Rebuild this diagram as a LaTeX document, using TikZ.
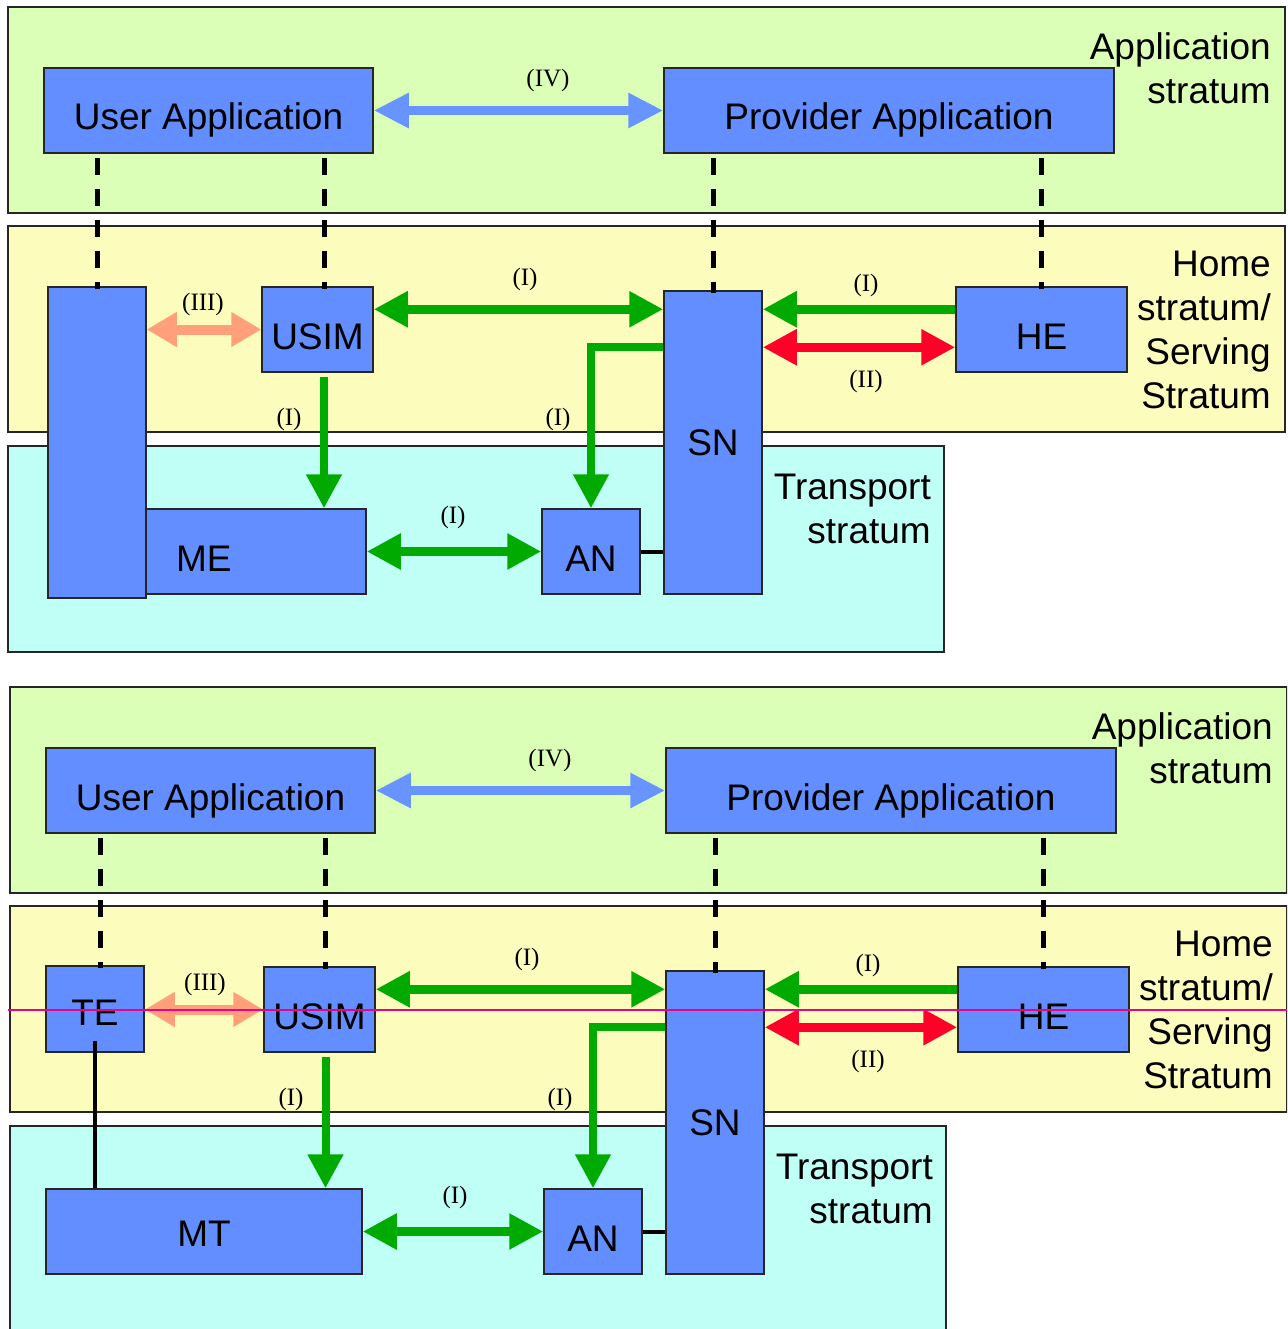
\documentclass[tikz,border=0pt]{standalone}
\usepackage{fontspec}
\setmainfont{Liberation Serif}
\setsansfont{Liberation Sans}
\usepackage{tikz}
\usetikzlibrary{arrows.meta,positioning}
\definecolor{boxblue}{RGB}{98,142,255}
\definecolor{appgreen}{RGB}{220,255,184}
\definecolor{homeyel}{RGB}{252,252,188}
\definecolor{transcyan}{RGB}{192,255,246}
\definecolor{lnkgreen}{RGB}{0,170,0}
\definecolor{lnkred}{RGB}{255,0,40}
\definecolor{lnksalmon}{RGB}{255,160,122}
\definecolor{lnkblue}{RGB}{104,148,255}

\begin{document}
\begin{tikzpicture}[x=1pt, y=-1pt,
box/.style = {draw=black!85, line width=1.5pt, fill=boxblue, inner sep=0pt,
text height=39pt, text depth=0pt, font=\sffamily\fontsize{37}{44}\selectfont},
lay/.style = {draw=black!85, line width=1.5pt},
slab/.style = {anchor=north east, align=right, inner sep=0pt,
font=\sffamily\fontsize{37}{44}\selectfont},
lbl/.style = {inner sep=0pt, font=\fontsize{25}{28}\selectfont},
dashln/.style = {line width=5pt, dash pattern=on 17pt off 14pt,
shorten <=4pt, shorten >=-3pt},
grn/.style = {draw=lnkgreen, line width=9pt},
vgrn/.style = {draw=lnkgreen, line width=8pt},
rd/.style = {draw=lnkred, line width=9pt},
salm/.style = {draw=lnksalmon, line width=10pt, >={Triangle[length=30pt,width=33pt]}},
blu/.style = {draw=lnkblue, line width=9pt, >={Triangle[length=35pt,width=33pt]}},
>={Triangle[length=34pt,width=34pt]} ]
\clip (0,0) rectangle (1287,1329);

% parts that both panels share
\foreach \pn/\dx/\dy in {top/0/0, bot/2/680} {
\begin{scope}[shift={(\dx,\dy)}, name prefix/.expanded=\pn-]
  \draw[lay, fill=appgreen] (8,7) rectangle (1285,213);
  \draw[lay, fill=homeyel] (8,226) rectangle (1285,432);
  \draw[lay, fill=transcyan] (8,446) rectangle (944,652);
  \node[slab] (appl) at (1271,32) {Application\\stratum};
  \node[slab] (homel) at (1271,251) {Home\\stratum/\\Serving\\Stratum};
  \node[slab] (trl) at (931,474) {Transport\\stratum};

  \node[box, minimum width=329pt, minimum height=85pt] (UA) at (208.5,110.5) {User Application};
  \node[box, minimum width=450pt, minimum height=85pt] (PA) at (889,110.5) {Provider Application};
  \node[box, minimum width=111pt, minimum height=85pt] (USIM) at (317.5,329.5) {USIM};
  \node[box, minimum width=98pt, minimum height=303pt, text height=26pt] (SN) at (713,442.5) {SN};
  \node[box, minimum width=171pt, minimum height=85pt] (HE) at (1041.5,329.5) {HE};
  \node[box, minimum width=98pt, minimum height=85pt] (AN) at (591,551.5) {AN};

  \coordinate (r1) at ([yshift=-23pt]USIM.north east);
  \coordinate (r2) at ([yshift=-61pt]HE.north west);
  \draw[dashln] (SN.north |- PA.south) -- (SN.north);
  \draw[dashln] (HE.north |- PA.south) -- (HE.north);
  \draw[blu, <->] (UA) -- (PA);
  \draw[grn, <->] (r1) -- (r1 -| SN.west);
  \draw[grn, ->] (r1 -| HE.west) -- (r1 -| SN.east);
  \draw[rd, <->] (r2 -| SN.east) -- (r2);
  \draw[vgrn, ->] (r2 -| SN.west) -| (AN.north);
  \draw[line width=4pt] (AN.east) -- (AN.east -| SN.west);

  \node[lbl] (l4) at (548,80) {(IV)};
  \node[lbl] (l3) at (203,304) {(III)};
  \node[lbl] (l1a) at (525,279) {(I)};
  \node[lbl] (l1b) at (866,285) {(I)};
  \node[lbl] (l2) at (866,381) {(II)};
  \node[lbl] (l1c) at (289,419) {(I)};
  \node[lbl] (l1d) at (558,419) {(I)};
  \node[lbl] (l1e) at (453,517) {(I)};
\end{scope}
}

% upper panel: one mobile equipment
\begin{scope}[name prefix=top-]
  \node[box, minimum width=98pt, minimum height=311pt] (MEv) at (97,442.5) {};
  \node[box, minimum width=220pt, minimum height=85pt, text width=160pt,
    inner xsep=30pt, align=left] (ME) at (256,551.5) {ME};
  \coordinate (ul) at ([xshift=6.5pt]USIM.south);
  \draw[dashln] (MEv.north |- UA.south) -- (MEv.north);
  \draw[dashln] (ul |- UA.south) -- (ul |- USIM.north);
  \draw[salm, <->] (USIM.west -| MEv.east) -- (USIM.west);
  \draw[vgrn, ->, shorten <=4pt] (ul |- USIM.south) -- (ul |- ME.north);
  \draw[grn, <->] (ME.east) -- (AN.west);
\end{scope}

% lower panel: TE and MT
\begin{scope}[shift={(2,680)}, name prefix=bot-]
  \node[box, minimum width=98pt, minimum height=86pt, text height=32pt] (TE) at (93,329) {TE};
  \node[box, minimum width=316pt, minimum height=85pt, text height=30pt] (MT) at (202,551.5) {MT};
  \coordinate (ul) at ([xshift=6pt]USIM.south);
  \coordinate (tl) at ([xshift=5pt]TE.north);
  \draw[dashln] (tl |- UA.south) -- (tl);
  \draw[dashln] (ul |- UA.south) -- (ul |- USIM.north);
  \draw[line width=4pt] ([yshift=12pt]TE.south) -- (TE.south |- MT.north);
  \draw[salm, <->] (USIM.west -| TE.east) -- (USIM.west);
  \draw[vgrn, ->, shorten <=4pt] (ul |- USIM.south) -- (ul |- MT.north);
  \draw[grn, <->] (MT.east) -- (AN.west);
\end{scope}

\draw[magenta, line width=1.5pt] (8,1010) -- (1287,1010);
\end{tikzpicture}
\end{document}
